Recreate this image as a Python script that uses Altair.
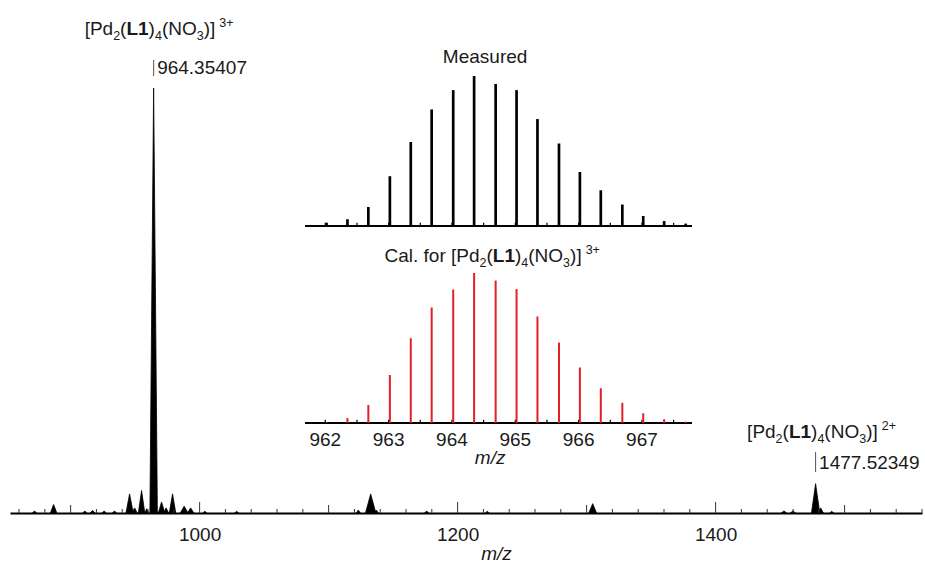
import altair as alt
import pandas as pd

# ---------------- data ----------------
# main spectrum: peak centre (m/z), relative intensity, half width (m/z)
peak_mz = [872.0, 886.8, 911.0, 917.0, 926.0, 934.0, 945.7, 949.6, 955.0, 959.0,
           964.35, 970.5, 974.0, 979.0, 988.0, 993.0, 1004.0, 1028.7, 1123.0, 1132.6,
           1137.0, 1176.0, 1223.0, 1304.7, 1453.0, 1460.0, 1477.52, 1481.5, 1490.0]
peak_int = [0.005, 0.020, 0.005, 0.006, 0.005, 0.005, 0.045, 0.012, 0.053, 0.010,
            1.000, 0.026, 0.012, 0.045, 0.016, 0.012, 0.004, 0.004, 0.007, 0.045,
            0.007, 0.005, 0.004, 0.022, 0.005, 0.005, 0.069, 0.012, 0.004]
peak_hw = [1.5, 2.5, 1.5, 2.0, 1.5, 1.5, 2.8, 2.0, 2.5, 1.5,
           2.9, 2.5, 2.0, 2.5, 3.0, 2.5, 1.5, 1.5, 1.5, 4.0,
           1.5, 1.5, 1.5, 3.0, 2.0, 2.0, 3.2, 2.0, 1.5]

main_labels = [1000, 1200, 1400]
main_mid_ticks = [900, 1100, 1300, 1500]
main_minor_ticks = [860, 880, 920, 940, 960, 980, 1020, 1040, 1060, 1080, 1120, 1140,
                    1160, 1180, 1220, 1240, 1260, 1280, 1320, 1340, 1360, 1380, 1420,
                    1440, 1460, 1480, 1520, 1540, 1560]

# isotope pattern (inset)
iso_mz = [962.02, 962.35, 962.68, 963.02, 963.35, 963.68, 964.02, 964.35, 964.69,
          965.02, 965.35, 965.69, 966.02, 966.35, 966.69, 967.02, 967.35, 967.69]
iso_measured = [0.022, 0.045, 0.127, 0.332, 0.560, 0.777, 0.906, 1.000, 0.947,
                0.906, 0.713, 0.550, 0.360, 0.238, 0.143, 0.067, 0.033, 0.016]
iso_calc = [0.004, 0.033, 0.120, 0.320, 0.565, 0.770, 0.890, 1.000, 0.950,
            0.893, 0.710, 0.536, 0.370, 0.232, 0.134, 0.065, 0.025, 0.009]
inset_labels = [962, 963, 964, 965, 966, 967]
inset_ticks = [962.0, 962.5, 963.0, 963.5, 964.0, 964.5, 965.0, 965.5,
               966.0, 966.5, 967.0, 967.5]

peak1_mz, peak1_text = 964.35, "964.35407"
peak2_mz, peak2_text = 1477.52, "1477.52349"

# ---------------- style / layout ----------------
FONT = "Liberation Sans"
TXT = "#1a1a1a"
RED = "#e41e26"
FS = 19
W_PLOT, H_PLOT = 912, 513
PX_PER_UNIT_MAIN = 425.0

main_x = alt.Scale(domain=[853, 1560], range=[0, W_PLOT], nice=False, zero=False)
main_y = alt.Scale(domain=[0, H_PLOT / PX_PER_UNIT_MAIN], range=[H_PLOT, 0], nice=False, zero=False)
inset_dom = [961.68, 967.79]
inset_x = alt.Scale(domain=inset_dom, range=[295, 682], nice=False, zero=False)
top_y = alt.Scale(domain=[0, 1], range=[226, 76], nice=False, zero=False)
bot_y = alt.Scale(domain=[0, 1], range=[423, 273], nice=False, zero=False)

layers = []

# ---- main spectrum (triangular peak profiles) ----
rows = []
for i, (c, h, w) in enumerate(zip(peak_mz, peak_int, peak_hw)):
    rows += [dict(pid=i, m=c - w, I=0.0), dict(pid=i, m=c, I=h), dict(pid=i, m=c + w, I=0.0)]
spec_df = pd.DataFrame(rows)
layers.append(
    alt.Chart(spec_df).mark_area(color="black", stroke="black", strokeWidth=0.8, strokeJoin="miter")
    .encode(
        x=alt.X("m:Q", scale=main_x,
                axis=alt.Axis(values=main_labels, format="d", ticks=False, grid=False,
                              domain=True, domainColor="black", domainWidth=2,
                              labelFont=FONT, labelFontSize=FS, labelColor=TXT,
                              labelPadding=12, title="m/z", titleFont=FONT,
                              titleFontSize=FS, titleFontStyle="italic",
                              titleFontWeight="normal", titleColor=TXT, titleX=486,
                              titleY=46, titleAlign="center",
                              titleBaseline="alphabetic")),
        y=alt.Y("I:Q", scale=main_y, axis=None, stack=None),
        detail="pid:N",
    )
)

# ---- main axis inward ticks ----
tick_rows = ([dict(m=v, y0=0, y1=11 / PX_PER_UNIT_MAIN) for v in main_labels]
             + [dict(m=v, y0=0, y1=8 / PX_PER_UNIT_MAIN) for v in main_mid_ticks]
             + [dict(m=v, y0=0, y1=4 / PX_PER_UNIT_MAIN) for v in main_minor_ticks])
layers.append(
    alt.Chart(pd.DataFrame(tick_rows)).mark_rule(color="#333333", strokeWidth=1)
    .encode(x=alt.X("m:Q", scale=main_x, axis=None),
            y=alt.Y("y0:Q", scale=main_y, axis=None), y2="y1:Q")
)

# ---- inset baselines ----
base_df = pd.DataFrame({"m0": [inset_dom[0]], "m1": [inset_dom[1]], "z": [0.0]})
for ysc in (top_y, bot_y):
    layers.append(
        alt.Chart(base_df).mark_rule(color="black", strokeWidth=2)
        .encode(x=alt.X("m0:Q", scale=inset_x, axis=None), x2="m1:Q",
                y=alt.Y("z:Q", scale=ysc, axis=None))
    )
    it_df = pd.DataFrame({"m": inset_ticks, "y0": 0.0, "y1": 0.022})
    layers.append(
        alt.Chart(it_df).mark_rule(color="black", strokeWidth=1.2)
        .encode(x=alt.X("m:Q", scale=inset_x, axis=None),
                y=alt.Y("y0:Q", scale=ysc, axis=None), y2="y1:Q")
    )

# ---- inset peaks ----
meas_df = pd.DataFrame({"m": iso_mz, "z": 0.0, "I": iso_measured})
calc_df = pd.DataFrame({"m": iso_mz, "z": 0.0, "I": iso_calc})
layers.append(
    alt.Chart(meas_df).mark_rule(color="black", strokeWidth=2.7)
    .encode(x=alt.X("m:Q", scale=inset_x, axis=None),
            y=alt.Y("z:Q", scale=top_y, axis=None), y2="I:Q")
)
layers.append(
    alt.Chart(calc_df).mark_rule(color=RED, strokeWidth=2)
    .encode(x=alt.X("m:Q", scale=inset_x, axis=None),
            y=alt.Y("z:Q", scale=bot_y, axis=None), y2="I:Q")
)

# ---- inset tick labels ----
lab_df = pd.DataFrame({"m": inset_labels, "t": [str(v) for v in inset_labels]})
layers.append(
    alt.Chart(lab_df).mark_text(font=FONT, fontSize=FS, color=TXT, align="center",
                                baseline="alphabetic")
    .encode(x=alt.X("m:Q", scale=inset_x, axis=None), y=alt.value(446), text="t:N")
)


# ---- text helpers ----
ADV = {'[': .278, 'P': .667, 'd': .556, '(': .333, ')': .333, 'N': .722, 'O': .778,
       ']': .278, 'C': .722, 'a': .556, 'l': .222, '.': .278, ' ': .278, 'f': .278,
       'o': .556, 'r': .333, '+': .584, 'L': .611}


def text_width(s, size):
    return sum((.556 if ch.isdigit() else ADV[ch]) for ch in s) * size


def formula_pieces(prefix, charge):
    p = []
    if prefix:
        p.append((prefix, "n"))
    p += [("[Pd", "n"), ("2", "sub"), ("(", "n"), ("L1", "b"), (")", "n"), ("4", "sub"),
          ("(NO", "n"), ("3", "sub"), (")]", "n"), (None, "gap"), (charge, "sup")]
    return p


def formula_layers(pieces, anchor_m, xscale, base_y, start_dx):
    out = []
    df = pd.DataFrame({"m": [anchor_m]})
    cur = start_dx
    for txt, kind in pieces:
        if kind == "gap":
            cur += 4
            continue
        size = FS if kind in ("n", "b") else 12.5
        dy = {"n": 0, "b": 0, "sub": 5, "sup": -8}[kind]
        out.append(
            alt.Chart(df).mark_text(text=txt, font=FONT, fontSize=size,
                                    fontWeight="bold" if kind == "b" else "normal",
                                    color=TXT, align="left", baseline="alphabetic",
                                    dx=cur, dy=dy)
            .encode(x=alt.X("m:Q", scale=xscale, axis=None), y=alt.value(base_y))
        )
        cur += text_width(txt, size)
    return out


# ---- peak annotations ----
layers += formula_layers(formula_pieces(None, "3+"), peak1_mz, main_x, 35, -69)
layers += formula_layers(formula_pieces(None, "2+"), peak2_mz, main_x, 438, -68.5)
layers += formula_layers(formula_pieces("Cal. for ", "3+"), peak1_mz, inset_x, 262, -89.6)

for m, t, y0, y1, yt in [(peak1_mz, peak1_text, 60, 76, 74), (peak2_mz, peak2_text, 452, 472, 469)]:
    d = pd.DataFrame({"m": [m]})
    layers.append(
        alt.Chart(d).mark_rule(color="#555555", strokeWidth=1)
        .encode(x=alt.X("m:Q", scale=main_x, axis=None), y=alt.value(y0), y2=alt.value(y1))
    )
    layers.append(
        alt.Chart(d).mark_text(text=t, font=FONT, fontSize=FS, color=TXT, align="left",
                               baseline="alphabetic", dx=3.5)
        .encode(x=alt.X("m:Q", scale=main_x, axis=None), y=alt.value(yt))
    )

# ---- inset titles ----
d = pd.DataFrame({"m": [peak1_mz]})
layers.append(
    alt.Chart(d).mark_text(text="Measured", font=FONT, fontSize=FS, color=TXT,
                           align="center", baseline="alphabetic", dx=11)
    .encode(x=alt.X("m:Q", scale=inset_x, axis=None), y=alt.value(63))
)
layers.append(
    alt.Chart(d).mark_text(text="m/z", font=FONT, fontSize=FS, fontStyle="italic",
                           color=TXT, align="center", baseline="alphabetic", dx=16)
    .encode(x=alt.X("m:Q", scale=inset_x, axis=None), y=alt.value(464))
)

chart = (
    alt.layer(*layers)
    .resolve_scale(x="independent", y="independent")
    .properties(width=W_PLOT, height=H_PLOT,
                autosize=alt.AutoSizeParams(type="none"),
                padding={"left": 10, "right": 3, "top": 0, "bottom": 54},
                background="white")
    .configure_view(strokeWidth=0)
)

chart.save("out.html", embed_options={"renderer": "svg", "actions": False})
